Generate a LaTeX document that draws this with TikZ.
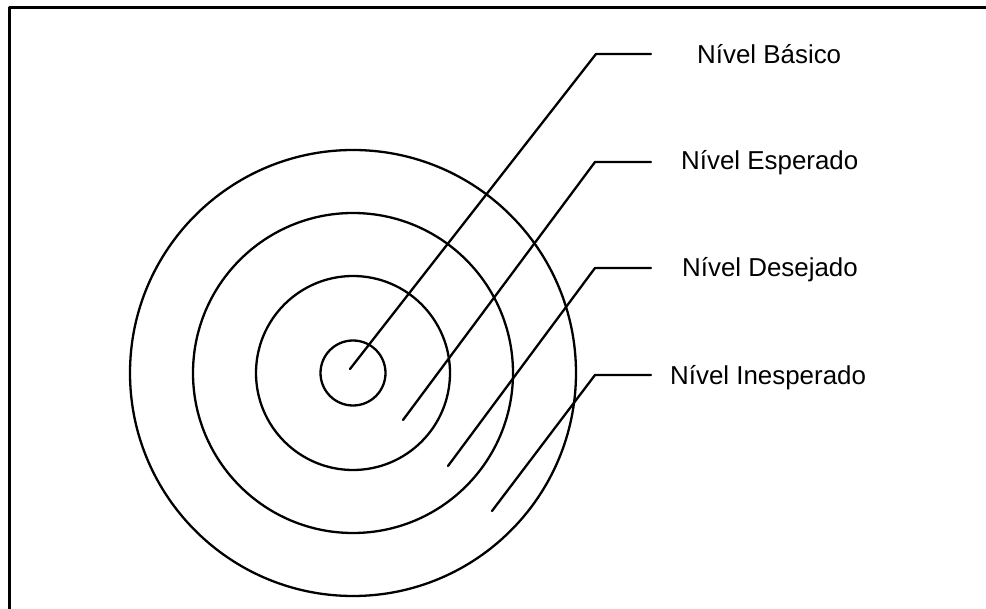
\documentclass[tikz,border=0pt]{standalone}
\usepackage{fontspec}
\setmainfont{Liberation Sans}
\begin{document}
\begin{tikzpicture}[x=1pt, y=-1pt, line join=round, line cap=round,
		ring/.style={line width=2.3pt},
		leader/.style={line width=2.3pt},
		level/.style={anchor=base west, inner sep=0pt, font=\fontsize{25.9}{30}\selectfont}]
		\useasboundingbox (0,0) rectangle (986,609);
		\draw[line width=2.8pt, line cap=butt] (9.3,609)--(9.3,7.3)--(986,7.3);
		\coordinate (O) at (353,373);
		\foreach \r in {32.5,97,160,223} \draw[ring] (O) circle (\r pt);
		% leader points
		\coordinate (s1) at (350,369);	\coordinate (e1) at (596,54);	\coordinate (t1) at (651,54);
		\coordinate (s2) at (403,420);	\coordinate (e2) at (595,162);	\coordinate (t2) at (651,162);
		\coordinate (s3) at (448,466);	\coordinate (e3) at (595,268);	\coordinate (t3) at (651,268);
		\coordinate (s4) at (492,511);	\coordinate (e4) at (595,375);	\coordinate (t4) at (651,375);
		\foreach \i in {1,...,4} \draw[leader] (s\i)--(e\i)--(t\i);
		% labels
		\node[level] (basico) at (697,63.2) {Nível Básico};
		\node[level] (esperado) at (681,169.7) {Nível Esperado};
		\node[level] (desejado) at (682,276.7) {Nível Desejado};
		\node[level] (inesperado) at (670,384.2) {Nível Inesperado};
	\end{tikzpicture}
\end{document}
